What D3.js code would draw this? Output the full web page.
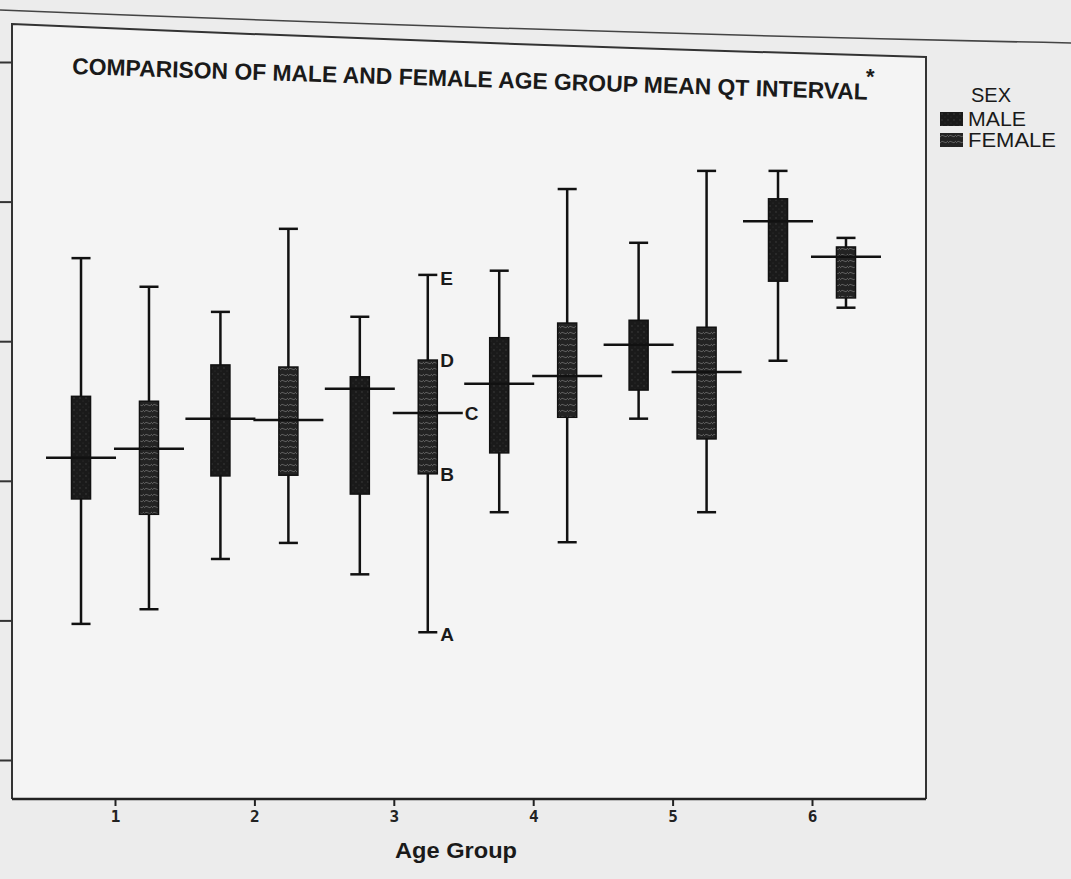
<!DOCTYPE html>
<html>
<head>
<meta charset="utf-8">
<script src="https://cdn.jsdelivr.net/npm/d3@7"></script>
<style>
  html, body { margin: 0; padding: 0; background: #ebebeb; }
  svg { display: block; font-family: "Liberation Sans", Arial, sans-serif; }
</style>
</head>
<body>
<svg id="chart"></svg>
<script>
const width = 1071, height = 879;

// data (QT interval, arbitrary units of the unlabelled y axis)
const ageGroups = [1, 2, 3, 4, 5, 6];
const sexes = ["MALE", "FEMALE"];

const maleMin  = [359.5, 368.8, 366.6, 375.5, 388.9, 397.2];
const maleQ1   = [377.4, 380.7, 378.1, 384.0, 393.0, 408.6];
const maleMean = [383.3, 388.9, 393.2, 393.9, 399.5, 417.2];
const maleQ3   = [392.1, 396.6, 394.9, 400.5, 403.0, 420.4];
const maleMax  = [411.9, 404.2, 403.5, 410.1, 414.1, 424.4];

const femaleMin  = [361.6, 371.1, 358.3, 371.2, 375.5, 404.8];
const femaleQ1   = [375.2, 380.8, 381.0, 389.1, 386.0, 406.2];
const femaleMean = [384.6, 388.7, 389.7, 395.0, 395.6, 412.1];
const femaleQ3   = [391.4, 396.3, 397.3, 402.6, 402.0, 413.5];
const femaleMax  = [407.8, 416.1, 409.5, 421.8, 424.4, 414.8];

const yTicks = [340, 360, 380, 400, 420, 440];

// labelled example box (age group 3, female)
const annotations = [
  { letter: "E", key: "max" },
  { letter: "D", key: "q3" },
  { letter: "C", key: "mean" },
  { letter: "B", key: "q1" },
  { letter: "A", key: "min" }
];

const boxes = [];
ageGroups.forEach((g, i) => {
  boxes.push({ group: g, sex: "MALE", min: maleMin[i], q1: maleQ1[i], mean: maleMean[i], q3: maleQ3[i], max: maleMax[i] });
  boxes.push({ group: g, sex: "FEMALE", min: femaleMin[i], q1: femaleQ1[i], mean: femaleMean[i], q3: femaleQ3[i], max: femaleMax[i] });
});

const svg = d3.select("#chart")
    .attr("width", width)
    .attr("height", height);

// textures for the box fills
const defs = svg.append("defs");
const mp = defs.append("pattern").attr("id", "malePat")
    .attr("patternUnits", "userSpaceOnUse").attr("width", 6).attr("height", 6);
mp.append("rect").attr("width", 6).attr("height", 6).attr("fill", "#1a1a1a");
mp.append("circle").attr("cx", 2).attr("cy", 2).attr("r", 0.7).attr("fill", "#444");
mp.append("circle").attr("cx", 5).attr("cy", 5).attr("r", 0.6).attr("fill", "#333");

const fp = defs.append("pattern").attr("id", "femalePat")
    .attr("patternUnits", "userSpaceOnUse").attr("width", 8).attr("height", 6);
fp.append("rect").attr("width", 8).attr("height", 6).attr("fill", "#232323");
fp.append("path").attr("d", "M0,4 Q2,1 4,3 T8,2")
    .attr("fill", "none").attr("stroke", "#666").attr("stroke-width", 0.9);

// page background + the plot frame
svg.append("rect").attr("width", width).attr("height", height).attr("fill", "#ececec");
svg.append("path")
    .attr("d", "M12,24 Q470,44 926,57 L926,799 L12,799 Z")
    .attr("fill", "#f4f4f4");
// page edge line above the frame
svg.append("path")
    .attr("d", "M0,10 Q540,32 1071,43")
    .attr("fill", "none").attr("stroke", "#444").attr("stroke-width", 1.5);
svg.append("path")
    .attr("d", "M12,799 L12,24 Q470,44 926,57 L926,799")
    .attr("fill", "none").attr("stroke", "#333").attr("stroke-width", 2);

// scales
const y = d3.scaleLinear().domain([340, 440]).range([760, 62]);
const x = d3.scalePoint().domain(ageGroups).range([115, 812]);
const xSex = d3.scaleBand().domain(sexes).range([-43.5, 43.5]).paddingInner(0.72);
const bw = xSex.bandwidth();
const cx = d => x(d.group) + xSex(d.sex) + bw / 2;

// axes
svg.append("g")
    .attr("transform", "translate(12,0)")
    .call(d3.axisLeft(y).tickValues(yTicks).tickFormat("").tickSize(12).tickSizeOuter(0))
    .call(g => g.select(".domain").remove())
    .call(g => g.selectAll(".tick line").attr("stroke", "#333").attr("stroke-width", 2));

const xAxis = svg.append("g")
    .attr("transform", "translate(0,799)")
    .call(d3.axisBottom(x).tickSize(7).tickPadding(5).tickSizeOuter(0))
    .attr("font-size", 16);
xAxis.select(".domain").attr("d", "M12,0H926").attr("stroke", "#222").attr("stroke-width", 2.5);
xAxis.selectAll(".tick line").attr("stroke", "#222").attr("stroke-width", 2);
xAxis.selectAll(".tick text")
    .attr("font-weight", "bold").attr("fill", "#222")
    .attr("font-family", "'DejaVu Sans Mono', monospace");

// boxes
const box = svg.append("g").selectAll("g")
    .data(boxes)
    .join("g");

box.append("line")
    .attr("x1", cx).attr("x2", cx)
    .attr("y1", d => y(d.max)).attr("y2", d => y(d.min))
    .attr("stroke", "#111").attr("stroke-width", 2.5);

box.append("line")
    .attr("x1", d => cx(d) - bw / 2).attr("x2", d => cx(d) + bw / 2)
    .attr("y1", d => y(d.max)).attr("y2", d => y(d.max))
    .attr("stroke", "#111").attr("stroke-width", 2.5);

box.append("line")
    .attr("x1", d => cx(d) - bw / 2).attr("x2", d => cx(d) + bw / 2)
    .attr("y1", d => y(d.min)).attr("y2", d => y(d.min))
    .attr("stroke", "#111").attr("stroke-width", 2.5);

box.append("rect")
    .attr("x", d => cx(d) - bw / 2)
    .attr("width", bw)
    .attr("y", d => y(d.q3))
    .attr("height", d => y(d.q1) - y(d.q3))
    .attr("fill", d => d.sex === "MALE" ? "url(#malePat)" : "url(#femalePat)")
    .attr("stroke", "#111").attr("stroke-width", 1.5);

box.append("line")
    .attr("x1", d => cx(d) - 35).attr("x2", d => cx(d) + 35)
    .attr("y1", d => y(d.mean)).attr("y2", d => y(d.mean))
    .attr("stroke", "#111").attr("stroke-width", 2.5);

// A-E labels on the age group 3 female box
const ex = boxes.find(d => d.group === 3 && d.sex === "FEMALE");
svg.append("g").selectAll("text")
    .data(annotations)
    .join("text")
    .attr("x", d => d.key === "mean" ? cx(ex) + 37 : cx(ex) + bw / 2 + 3)
    .attr("y", d => y(ex[d.key]) + (d.key === "max" ? 10 : d.key === "min" ? 9 : 7))
    .attr("font-size", 19).attr("font-weight", "bold").attr("fill", "#1a1a1a")
    .text(d => d.letter);

// title
svg.append("text")
    .attr("transform", "translate(72,74) rotate(1.85)")
    .attr("font-size", 23).attr("font-weight", "bold").attr("fill", "#1a1a1a")
    .attr("textLength", 796).attr("lengthAdjust", "spacingAndGlyphs")
    .text("COMPARISON OF MALE AND FEMALE AGE GROUP MEAN QT INTERVAL");
svg.append("text")
    .attr("x", 866).attr("y", 84)
    .attr("font-size", 22).attr("font-weight", "bold").attr("fill", "#1a1a1a")
    .text("*");

// axis title
svg.append("text")
    .attr("x", 395).attr("y", 858)
    .attr("font-size", 22).attr("font-weight", "bold").attr("fill", "#1a1a1a")
    .attr("textLength", 122).attr("lengthAdjust", "spacingAndGlyphs")
    .text("Age Group");

// legend
const legend = svg.append("g");
legend.append("text")
    .attr("x", 971).attr("y", 102)
    .attr("font-size", 20).attr("fill", "#1a1a1a")
    .attr("textLength", 40).attr("lengthAdjust", "spacingAndGlyphs")
    .text("SEX");
const item = legend.selectAll("g.item")
    .data(sexes)
    .join("g")
    .attr("class", "item")
    .attr("transform", (d, i) => `translate(940,${112 + i * 21})`);
item.append("rect")
    .attr("width", 23).attr("height", 14)
    .attr("fill", d => d === "MALE" ? "url(#malePat)" : "url(#femalePat)");
item.append("text")
    .attr("x", 28).attr("y", 14)
    .attr("font-size", 20).attr("fill", "#1a1a1a")
    .attr("textLength", d => d === "MALE" ? 58 : 88).attr("lengthAdjust", "spacingAndGlyphs")
    .text(d => d);
</script>
</body>
</html>
